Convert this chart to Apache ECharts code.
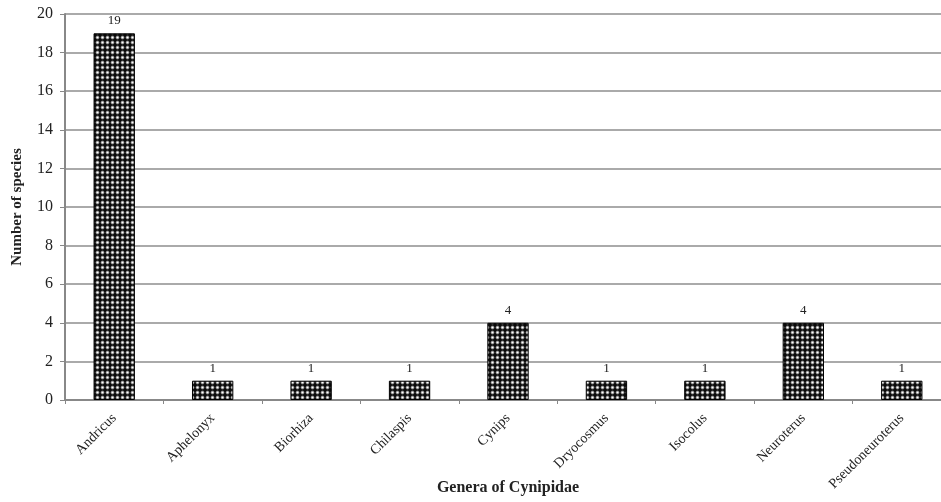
<!DOCTYPE html>
<html>
<head>
<meta charset="utf-8">
<script src="https://cdn.jsdelivr.net/npm/echarts@6/dist/echarts.min.js"></script>
<style>
html, body { margin: 0; padding: 0; background: #fff; }
#chart { width: 941px; height: 502px; }
</style>
</head>
<body>
<div id="chart"></div>
<script>
const genera = ['Andricus', 'Aphelonyx', 'Biorhiza', 'Chilaspis', 'Cynips', 'Dryocosmus', 'Isocolus', 'Neuroterus', 'Pseudoneuroterus'];
const speciesCount = [19, 1, 1, 1, 4, 1, 1, 4, 1];
const yTicks = [0, 2, 4, 6, 8, 10, 12, 14, 16, 18, 20];

// dotted fill like the printed figure
function makePattern() {
    const c = document.createElement('canvas');
    c.width = 5;
    c.height = 5;
    const ctx = c.getContext('2d');
    ctx.fillStyle = '#0a0a0a';
    ctx.fillRect(0, 0, 5, 5);
    ctx.fillStyle = '#777';
    ctx.beginPath();
    ctx.arc(2.5, 2.5, 1.9, 0, Math.PI * 2);
    ctx.fill();
    ctx.fillStyle = '#fff';
    ctx.beginPath();
    ctx.arc(2.5, 2.5, 1.1, 0, Math.PI * 2);
    ctx.fill();
    return c;
}

const serif = '"Liberation Serif", "DejaVu Serif", serif';
const chart = echarts.init(document.getElementById('chart'), null, {renderer: 'canvas'});

chart.setOption({
    animation: false,
    grid: {left: 65, right: -10, top: 14, bottom: 102, containLabel: false, outerBoundsMode: 'none'},
    xAxis: {
        type: 'category',
        data: genera,
        name: 'Genera of Cynipidae',
        nameLocation: 'middle',
        nameGap: 80,
        nameMoveOverlap: false,
        nameTextStyle: {fontFamily: serif, fontWeight: 'bold', fontSize: 16, color: '#222'},
        axisLine: {lineStyle: {color: '#888', width: 2}},
        axisTick: {show: true, alignWithLabel: false, length: 4, lineStyle: {color: '#888'}},
        axisLabel: {rotate: 45, fontFamily: serif, fontSize: 14, color: '#222', margin: 16, interval: 0}
    },
    yAxis: {
        type: 'value',
        min: yTicks[0],
        max: yTicks[yTicks.length - 1],
        interval: 2,
        name: 'Number of species',
        nameLocation: 'middle',
        nameGap: 40,
        nameMoveOverlap: false,
        nameTextStyle: {fontFamily: serif, fontWeight: 'bold', fontSize: 15, color: '#222'},
        axisLine: {show: true, lineStyle: {color: '#888', width: 2}},
        axisTick: {show: true, inside: false, length: 5, lineStyle: {color: '#888'}},
        axisLabel: {fontFamily: serif, fontSize: 16, color: '#222', margin: 12},
        splitLine: {show: true, lineStyle: {color: '#aaa', width: 2}}
    },
    series: [{
        type: 'bar',
        data: speciesCount,
        barWidth: '42%',
        itemStyle: {
            color: {image: makePattern(), repeat: 'repeat'},
            borderColor: '#000',
            borderWidth: 1
        },
        label: {
            show: true,
            position: 'top',
            distance: 6,
            fontFamily: serif,
            fontSize: 13,
            color: '#222'
        }
    }]
});
</script>
</body>
</html>
